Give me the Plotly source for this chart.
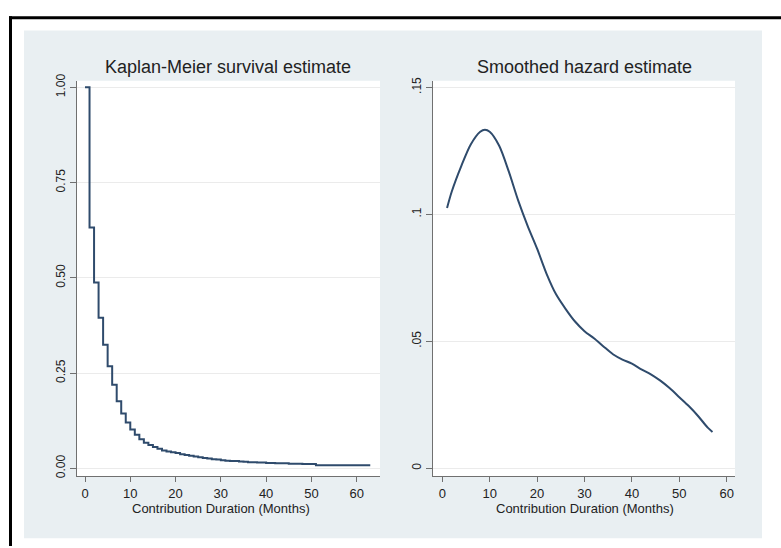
import plotly.graph_objects as go

# ---------------- data ----------------
km_months = list(range(0, 64))
km_survival = [
    1.000, 0.632, 0.488, 0.395, 0.324, 0.268, 0.219, 0.176, 0.144, 0.120,
    0.102, 0.088, 0.076, 0.067, 0.061, 0.056, 0.051, 0.047, 0.044, 0.042,
    0.040, 0.037, 0.035, 0.033, 0.031, 0.029, 0.027, 0.026, 0.024, 0.023,
    0.021, 0.020, 0.019, 0.019, 0.018, 0.017, 0.016, 0.016, 0.015, 0.015,
    0.014, 0.014, 0.013, 0.013, 0.013, 0.012, 0.012, 0.012, 0.011, 0.011,
    0.011, 0.008, 0.008, 0.008, 0.008, 0.008, 0.008, 0.008, 0.008, 0.008,
    0.008, 0.008, 0.008, 0.008,
]

hz_months = [1, 2, 4, 6, 8, 9, 10, 12, 14, 16, 18, 20, 22, 24, 26, 28, 30,
             32, 34, 36, 38, 40, 42, 44, 46, 48, 50, 52, 54, 56, 57]
hz_values = [0.1025, 0.1090, 0.1190, 0.1275, 0.1325, 0.1333, 0.1325, 0.1270,
             0.1170, 0.1055, 0.0955, 0.0865, 0.0766, 0.0685, 0.0628, 0.0578,
             0.0540, 0.0512, 0.0480, 0.0449, 0.0428, 0.0412, 0.0390, 0.0370,
             0.0345, 0.0315, 0.0280, 0.0245, 0.0205, 0.0160, 0.0143]

x_ticks = [0, 10, 20, 30, 40, 50, 60]
km_yticks = [0, 0.25, 0.5, 0.75, 1.0]
km_yticklabels = ["0.00", "0.25", "0.50", "0.75", "1.00"]
hz_yticks = [0, 0.05, 0.1, 0.15]
hz_yticklabels = ["0", ".05", ".1", ".15"]

left_title = "Kaplan-Meier survival estimate"
right_title = "Smoothed hazard estimate"
x_title = "Contribution Duration (Months)"

# ---------------- layout geometry (pixels) ----------------
W, H = 781, 548
def px(x):
    return x / W
def py(y):
    return 1 - y / H

LINE = "#2f4b6c"
AX = "#707070"
GRID = "#ebebeb"
BG = "#e9eff2"
FONT = "Liberation Sans, Arial, sans-serif"

fig = go.Figure()
fig.add_trace(go.Scatter(x=km_months, y=km_survival, mode="lines",
                         line=dict(shape="hv", color=LINE, width=2),
                         xaxis="x", yaxis="y", showlegend=False))
fig.add_trace(go.Scatter(x=hz_months, y=hz_values, mode="lines",
                         line=dict(shape="spline", smoothing=0.8, color=LINE, width=2),
                         xaxis="x2", yaxis="y2", showlegend=False))

common_x = dict(showline=True, linecolor=AX, linewidth=1, ticks="outside",
                ticklen=5, tickcolor=AX, showgrid=False, zeroline=False,
                tickvals=x_ticks, tickfont=dict(family=FONT, size=13, color="#222"))
common_y = dict(showline=True, linecolor=AX, linewidth=1, ticks="outside",
                ticklen=6, tickcolor=AX, showgrid=True, gridcolor=GRID,
                gridwidth=1, zeroline=False, tickangle=-90,
                tickfont=dict(family=FONT, size=12, color="#222"))

L_X0, L_X1 = 77, 380
R_X0, R_X1 = 433, 735
P_Y0, P_Y1 = 75, 477

fig.update_layout(
    width=W, height=H,
    margin=dict(l=0, r=0, t=0, b=0),
    paper_bgcolor="white", plot_bgcolor="white",
    xaxis=dict(domain=[px(L_X0), px(L_X1)], range=[-1.767, 65.15], anchor="y", **common_x),
    yaxis=dict(domain=[py(P_Y1), py(P_Y0)], range=[-0.0207, 1.0173], anchor="x",
               tickvals=km_yticks, ticktext=km_yticklabels, **common_y),
    xaxis2=dict(domain=[px(R_X0), px(R_X1)], range=[-1.962, 61.75], anchor="y2", **common_x),
    yaxis2=dict(domain=[py(P_Y1), py(P_Y0)], range=[-0.0031, 0.1526], anchor="x2",
                tickvals=hz_yticks, ticktext=hz_yticklabels, **common_y),
)

def prect(x0, y0, x1, y1, color):
    return dict(type="rect", xref="paper", yref="paper",
                x0=px(x0), x1=px(x1), y0=py(y1), y1=py(y0),
                fillcolor=color, line=dict(width=0), layer="below")

shapes = [
    prect(24, 24, 762, 540, BG),            # graph region
    prect(L_X0, P_Y0, L_X1, P_Y1, "white"),  # plot regions
    prect(R_X0, P_Y0, R_X1, P_Y1, "white"),
    # black frame (top & left)
    dict(type="line", xref="paper", yref="paper",
         x0=px(9), x1=px(W), y0=py(11), y1=py(11),
         line=dict(color="black", width=3), layer="below"),
    dict(type="line", xref="paper", yref="paper",
         x0=px(10.5), x1=px(10.5), y0=py(9.5), y1=py(H),
         line=dict(color="black", width=3), layer="below"),
]
fig.update_layout(shapes=shapes)

ann = []
for cx, t in [((L_X0 + L_X1) / 2, left_title), ((R_X0 + R_X1) / 2, right_title)]:
    ann.append(dict(text=t, x=px(cx), y=py(61), xref="paper", yref="paper",
                    xanchor="center", yanchor="middle", showarrow=False,
                    font=dict(family=FONT, size=18, color="#222")))
for cx in [(85 + 356.7) / 2, (442.3 + 726.7) / 2]:
    ann.append(dict(text=x_title, x=px(cx), y=py(509.5), xref="paper", yref="paper",
                    xanchor="center", yanchor="middle", showarrow=False,
                    font=dict(family=FONT, size=13, color="#222")))
fig.update_layout(annotations=ann)

post = (
    "document.documentElement.style.margin='0';"
    "document.documentElement.style.overflow='hidden';"
    "document.body.style.margin='0';document.body.style.padding='0';"
    "document.body.style.overflow='hidden';"
    "var gds=document.getElementsByClassName('plotly-graph-div');"
    "for(var i=0;i<gds.length;i++){gds[i].style.position='fixed';"
    "gds[i].style.top='0px';gds[i].style.left='0px';}"
)

fig.write_html("out.html", config={"displayModeBar": False}, post_script=post)
